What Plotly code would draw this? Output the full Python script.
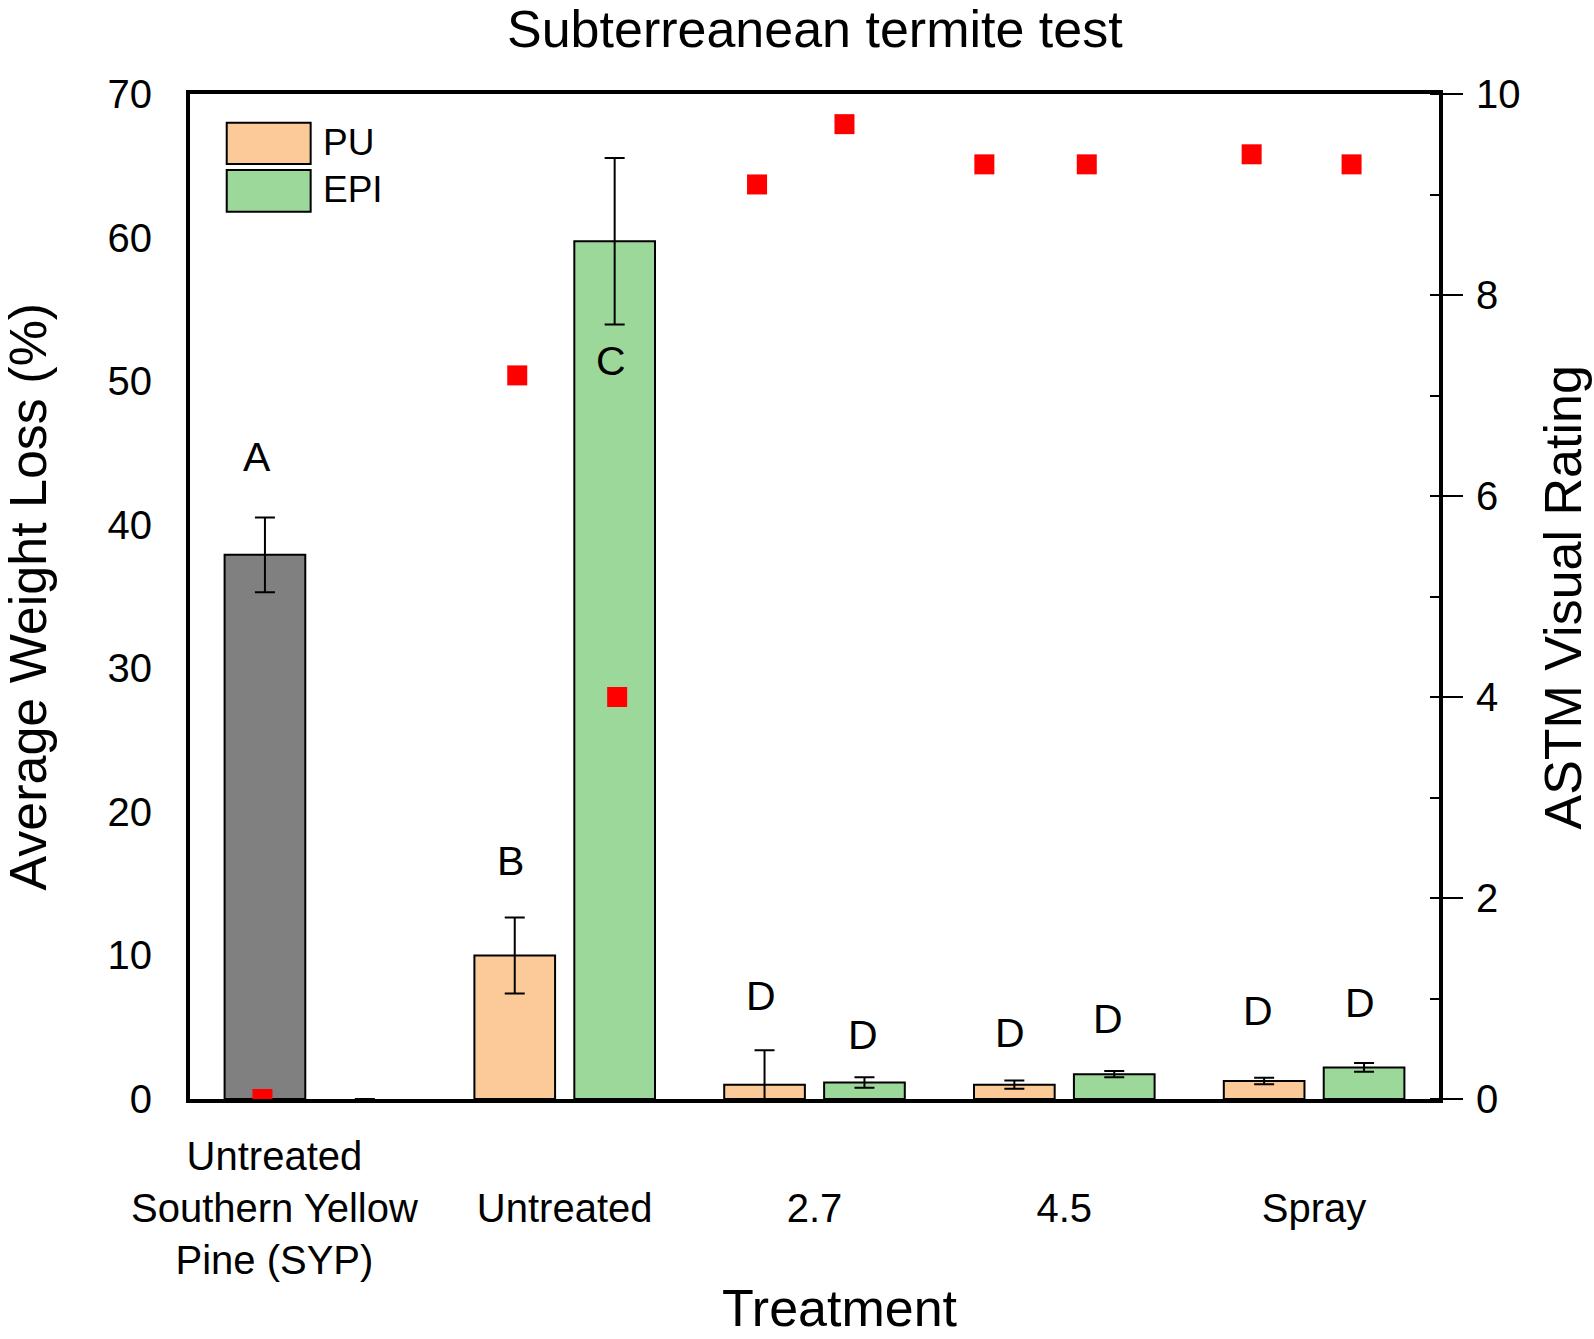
import plotly.graph_objects as go

# ---------------- data ----------------
groups = ["Untreated<br>Southern Yellow<br>Pine (SYP)", "<br>Untreated", "<br>2.7", "<br>4.5", "<br>Spray"]
group_label_pos = [-0.162, 1, 2, 3, 4]

syp_loss = [37.9]
syp_err = [2.6]

pu_groups = [1, 2, 3, 4]
pu_loss = [10.0, 1.0, 1.0, 1.25]
pu_err = [2.65, 2.4, 0.28, 0.23]

epi_groups = [0, 1, 2, 3, 4]
epi_loss = [0.0, 59.75, 1.15, 1.73, 2.2]
epi_err = [0.0, 5.8, 0.37, 0.22, 0.3]

rating_pos = [-0.21, 0.81, 1.21, 1.77, 2.12, 2.68, 3.09, 3.75, 4.15]
rating = [0.0, 7.2, 4.0, 9.1, 9.7, 9.3, 9.3, 9.4, 9.3]

letters = ["A", "B", "C", "D", "D", "D", "D", "D", "D"]
letter_pos = [-0.23, 0.785, 1.185, 1.786, 2.194, 2.783, 3.175, 3.775, 4.184]
letter_y = [44.7, 16.6, 51.4, 7.2, 4.45, 4.6, 5.55, 6.15, 6.7]

# ---------------- style ----------------
FONT = "Liberation Sans, Arial, sans-serif"
OFF = 0.2
BW = 0.323
PU_C = "#FBCA98"
EPI_C = "#9DD89B"
GRAY = "#808080"

err = lambda a: dict(type="data", array=a, color="black", thickness=2, width=10, visible=True)

fig = go.Figure()
fig.add_trace(go.Bar(name="SYP", x=[0 - OFF], y=syp_loss, width=BW,
                     marker=dict(color=GRAY, line=dict(color="black", width=2)),
                     error_y=err(syp_err), showlegend=False))
fig.add_trace(go.Bar(name="PU", x=[g - OFF for g in pu_groups], y=pu_loss, width=BW,
                     marker=dict(color=PU_C, line=dict(color="black", width=2)),
                     error_y=err(pu_err), showlegend=False))
fig.add_trace(go.Bar(name="EPI", x=[g + OFF for g in epi_groups], y=epi_loss, width=BW,
                     marker=dict(color=EPI_C,
                                 line=dict(color="black", width=[0 if v == 0 else 2 for v in epi_loss])),
                     error_y=err(epi_err), showlegend=False))
fig.add_trace(go.Scatter(name="ASTM Visual Rating", x=rating_pos, y=rating, yaxis="y2",
                         mode="markers", cliponaxis=True,
                         marker=dict(symbol="square", size=20, color="#FF0000",
                                     line=dict(width=0)),
                         showlegend=False))

ann = []
for t, xp, yp in zip(letters, letter_pos, letter_y):
    ann.append(dict(x=xp, y=yp, xref="x", yref="y", text=t, showarrow=False,
                    font=dict(size=41, color="black", family=FONT),
                    xanchor="center", yanchor="middle"))

# titles
ann.append(dict(x=0.5, y=1.0647, xref="paper", yref="paper", text="Subterreanean termite test",
                showarrow=False, borderpad=0, font=dict(size=52, color="black", family=FONT),
                xanchor="center", yanchor="middle"))
ann.append(dict(x=0.5204, y=-0.208, xref="paper", yref="paper", text="Treatment",
                showarrow=False, borderpad=0, font=dict(size=52, color="black", family=FONT),
                xanchor="center", yanchor="middle"))
ann.append(dict(x=-0.1305, y=0.5, xref="paper", yref="paper", text="Average Weight Loss (%)",
                showarrow=False, textangle=-90, font=dict(size=52, color="black", family=FONT),
                xanchor="center", yanchor="middle"))
ann.append(dict(x=1.0985, y=0.499, xref="paper", yref="paper", text="ASTM Visual Rating",
                showarrow=False, textangle=-90, font=dict(size=52, color="black", family=FONT),
                xanchor="center", yanchor="middle"))

# manual legend
shapes = []
leg = [("PU", PU_C, 0.9714, 0.9303, 0.9515), ("EPI", EPI_C, 0.9244, 0.8829, 0.9048)]
for name, col, y1, y0, yc in leg:
    shapes.append(dict(type="rect", xref="paper", yref="paper", x0=0.0294, x1=0.0966,
                       y0=y0, y1=y1, fillcolor=col, line=dict(color="black", width=2)))
    ann.append(dict(x=0.1049, y=yc, xref="paper", yref="paper", text=name, showarrow=False,
                    font=dict(size=37, color="black", family=FONT),
                    xanchor="left", yanchor="middle"))

fig.update_layout(
    width=1594, height=1339,
    margin=dict(l=190, r=155, t=94, b=240, pad=0),
    paper_bgcolor="white", plot_bgcolor="white",
    font=dict(family=FONT, color="black", size=40),
    barmode="overlay",
    showlegend=False,
    annotations=ann, shapes=shapes,
    xaxis=dict(range=[-0.5, 4.5], tickmode="array", tickvals=group_label_pos,
               ticktext=groups, showline=True, linecolor="black", linewidth=4, mirror=True,
               ticks="", showgrid=False, zeroline=False, tickfont=dict(size=40),
               ticklabelstandoff=19),
    yaxis=dict(range=[0, 70], dtick=10, showline=True, linecolor="black", linewidth=4,
               ticks="", showgrid=False, zeroline=False, tickfont=dict(size=40),
               ticklabelstandoff=26),
    yaxis2=dict(range=[0, 10], dtick=2, tick0=0, overlaying="y", side="right",
                showline=True, linecolor="black", linewidth=4,
                ticks="outside", ticklen=20, tickwidth=2, tickcolor="black",
                minor=dict(ticks="inside", ticklen=9, tickwidth=2, tickcolor="black", dtick=1, tick0=0),
                showgrid=False, zeroline=False, tickfont=dict(size=40), ticklabelstandoff=5),
)

fig.write_html("out.html", config={"displayModeBar": False},
               post_script="document.body.style.margin='0';")
